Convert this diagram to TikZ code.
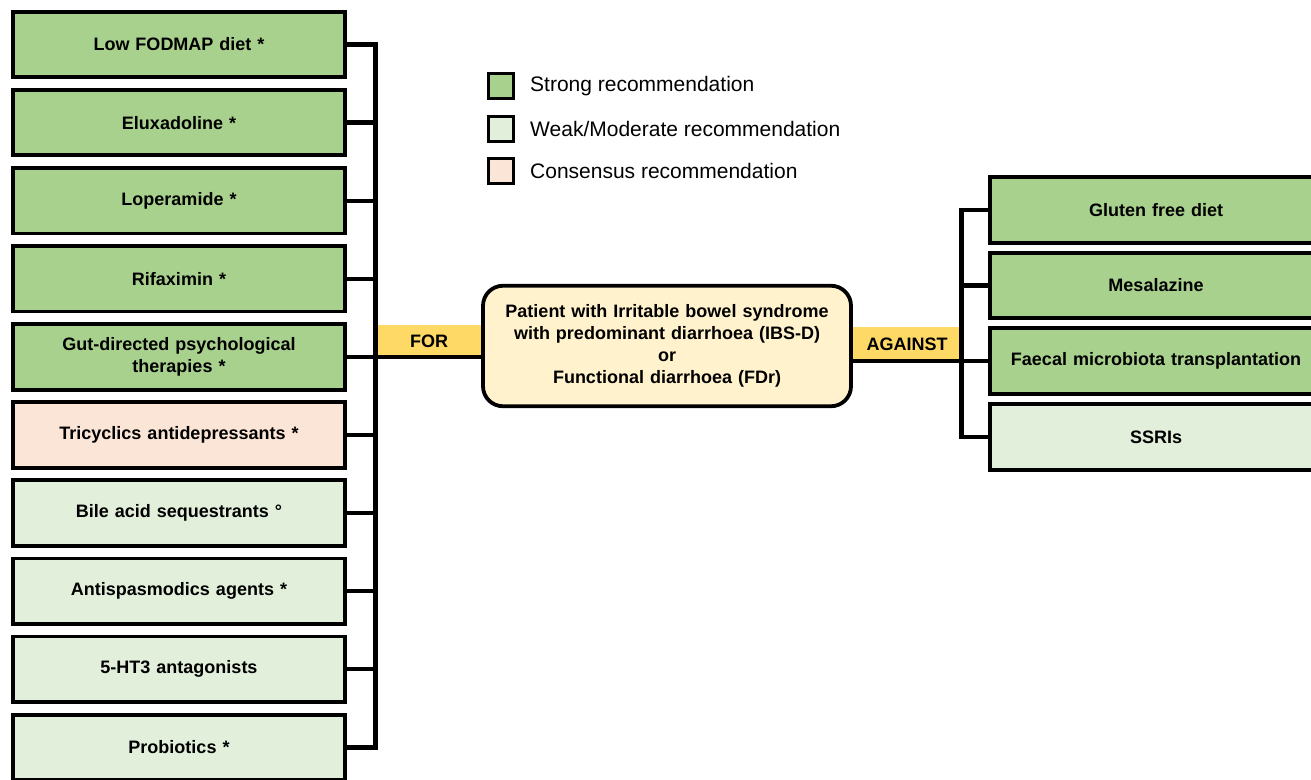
\documentclass[tikz,border=0pt]{standalone}
\usepackage{fontspec}
\setmainfont{Liberation Sans}
\definecolor{strongc}{HTML}{A9D18E}
\definecolor{weakc}{HTML}{E2EFDA}
\definecolor{consc}{HTML}{FBE5D6}
\definecolor{patc}{HTML}{FFF2CC}
\definecolor{bandc}{HTML}{FFD966}
\begin{document}
\begin{tikzpicture}[x=1pt,y=-1pt,
  box/.style={draw=black, line width=3.8pt, minimum width=332pt, minimum height=65.5pt,
    inner sep=0pt, align=center, text width=320pt,
    font=\bfseries\fontsize{18}{22}\selectfont},
  strongbox/.style={box, fill=strongc},
  weakbox/.style={box, fill=weakc},
  consbox/.style={box, fill=consc},
  patbox/.style={draw=black, line width=3.8pt, fill=patc, rounded corners=20pt,
    minimum width=368pt, minimum height=120.5pt, inner sep=0pt, align=center,
    text width=360pt, font=\bfseries\fontsize{18}{22}\selectfont},
  bandlab/.style={fill=bandc, inner sep=0pt, font=\bfseries\fontsize{18}{22}\selectfont},
  legsq/.style={draw=black, line width=3.4pt, minimum size=24.5pt, inner sep=0pt},
  legtxt/.style={anchor=west, inner sep=0pt, font=\fontsize{21}{25}\selectfont},
  conn/.style={draw=black, line width=4.3pt, line join=miter}
]
\clip (0,0) rectangle (1311,779);
\fill[white] (0,0) rectangle (1311,779);

% yellow bands
\node[bandlab, minimum width=104pt, minimum height=33pt] (forlab) at (429,341.5) {FOR};
\node[bandlab, minimum width=108pt, minimum height=34pt] (aglab) at (907,344) {AGAINST};

% left boxes
\node[strongbox] (b1) at (179,44.5) {Low FODMAP diet *};
\node[strongbox] (b2) at (179,122.6) {Eluxadoline *};
\node[strongbox] (b3) at (179,200.7) {Loperamide *};
\node[strongbox] (b4) at (179,278.8) {Rifaximin *};
\node[strongbox] (b5) at (179,356.9) {Gut-directed psychological\\therapies *};
\node[consbox] (b6) at (179,435.0) {Tricyclics antidepressants *};
\node[weakbox] (b7) at (179,513.1) {Bile acid sequestrants °};
\node[weakbox] (b8) at (179,591.2) {Antispasmodics agents *};
\node[weakbox] (b9) at (179,669.3) {5-HT3 antagonists};
\node[weakbox] (b10) at (179,747.4) {Probiotics *};

% centre
\node[patbox] (c) at (667,346) {Patient with Irritable bowel syndrome\\with predominant diarrhoea (IBS-D)\\or\\Functional diarrhoea (FDr)};

% right boxes
\node[strongbox] (r1) at (1156,210) {Gluten free diet};
\node[strongbox] (r2) at (1156,285.5) {Mesalazine};
\node[strongbox] (r3) at (1156,361) {Faecal microbiota transplantation};
\node[weakbox] (r4) at (1156,437) {SSRIs};

% legend
\node[legsq, fill=strongc] (l1) at (501,86) {};
\node[legsq, fill=weakc] (l2) at (501,129) {};
\node[legsq, fill=consc] (l3) at (501,171) {};
\node[legtxt] (t1) at (530,86) {Strong recommendation};
\node[legtxt] (t2) at (530,129) {Weak/Moderate recommendation};
\node[legtxt] (t3) at (530,171) {Consensus recommendation};

% left bracket
\coordinate (bk) at (375.5,400);
\draw[conn] (b1.east) -| (bk) |- (b10.east);
\foreach \i in {2,...,9} { \draw[conn] (b\i.east) -- (b\i.east -| bk); }
\draw[conn] (b5.east -| bk) -- (c.west |- b5.east);

% right bracket
\coordinate (rk) at (961.5,320);
\draw[conn] (r1.west) -| (rk) |- (r4.west);
\foreach \i in {2,3} { \draw[conn] (r\i.west) -- (r\i.west -| rk); }
\draw[conn] (c.east |- r3.west) -- (r3.west -| rk);
\end{tikzpicture}
\end{document}
